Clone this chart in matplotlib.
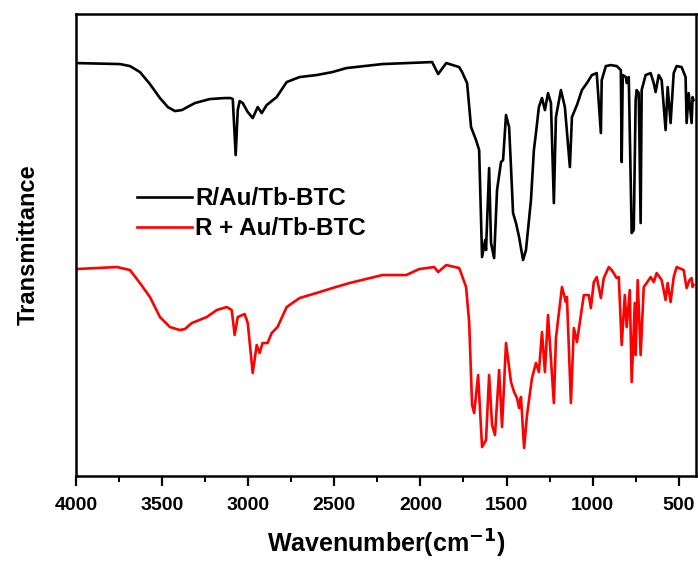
import matplotlib
matplotlib.use("Agg")
import matplotlib.pyplot as plt
from matplotlib.ticker import MultipleLocator

plt.rcParams["font.family"] = ["Liberation Sans", "DejaVu Sans"]
plt.rcParams["font.weight"] = "bold"

# transmittance in arbitrary units
wn_black = [4000, 3745, 3687, 3629, 3571, 3513, 3467, 3426, 3386, 3310, 3224, 3137, 3102,
            3090, 3073, 3061, 3050, 3032, 3003, 2974, 2945, 2922, 2893, 2835, 2777, 2702,
            2604, 2511, 2430, 2221, 1932, 1897, 1850, 1775, 1758, 1729, 1706, 1677, 1659,
            1642, 1624, 1619, 1601, 1590, 1572, 1555, 1532, 1520, 1503, 1485, 1474, 1462,
            1445, 1427, 1404, 1387, 1358, 1341, 1329, 1312, 1294, 1277, 1259, 1242, 1225,
            1213, 1184, 1161, 1132, 1120, 1091, 1062, 1033, 1004, 976, 952, 947, 923, 894,
            860, 836, 831, 825, 807, 802, 790, 773, 761, 750, 744, 732, 721, 715, 692, 663,
            645, 634, 616, 599, 576, 564, 547, 529, 512, 483, 460, 454, 442, 425, 419, 414]
t_black = [413, 412, 410, 404, 392, 378, 369, 365, 366, 373, 377, 378, 378,
           377, 321, 366, 375, 373, 364, 358, 369, 363, 371, 379, 394, 399,
           401, 404, 408, 412, 414, 402, 413, 409, 404, 393, 349, 336, 326,
           219, 236, 226, 308, 233, 218, 286, 314, 316, 361, 349, 309, 263,
           253, 239, 216, 226, 276, 326, 343, 369, 378, 366, 383, 373, 273,
           359, 386, 369, 309, 359, 371, 386, 393, 401, 403, 343, 396, 410, 411,
           410, 406, 314, 401, 399, 393, 399, 243, 246, 376, 386, 383, 253, 386, 401, 403,
           393, 384, 401, 396, 346, 389, 353, 403, 410, 409, 399, 353, 383, 353, 379, 376]

wn_red = [4000, 3762, 3687, 3629, 3571, 3513, 3455, 3397, 3368, 3328, 3241, 3183, 3125,
          3096, 3079, 3061, 3021, 3003, 2974, 2951, 2934, 2917, 2888, 2864, 2830, 2777,
          2702, 2604, 2511, 2412, 2221, 2082, 2007, 1920, 1897, 1850, 1775, 1764, 1735,
          1717, 1700, 1688, 1665, 1642, 1619, 1601, 1584, 1567, 1543, 1526, 1503, 1474,
          1456, 1439, 1427, 1416, 1398, 1381, 1352, 1329, 1312, 1294, 1277, 1259, 1225,
          1213, 1178, 1155, 1149, 1126, 1109, 1091, 1068, 1051, 1022, 1010, 993, 976, 952,
          935, 906, 889, 860, 848, 831, 813, 802, 784, 773, 755, 750, 738, 721, 703, 686,
          663, 645, 628, 599, 576, 564, 547, 529, 512, 471, 454, 437, 425, 419, 414]
t_red = [207, 209, 206, 193, 179, 159, 149, 146, 147, 153, 159, 166, 169,
         166, 141, 159, 162, 153, 103, 131, 123, 133, 133, 143, 149, 169,
         178, 183, 188, 193, 201, 201, 207, 209, 204, 211, 208, 203, 189,
         154, 71, 63, 101, 29, 36, 101, 51, 41, 106, 49, 133, 94,
         84, 78, 68, 79, 28, 61, 98, 113, 104, 144, 104, 161, 73,
         138, 189, 174, 179, 73, 148, 134, 161, 181, 181, 168, 194, 199, 178,
         198, 209, 206, 198, 199, 131, 181, 149, 186, 94, 173, 121, 196, 121, 189, 193,
         199, 194, 203, 196, 176, 193, 174, 199, 209, 206, 188, 196, 198, 189, 191]

labels = ["R/Au/Tb-BTC", "R + Au/Tb-BTC"]
colors = ["black", "red"]

fig = plt.figure(figsize=(6.98, 5.63), dpi=100)
ax = fig.add_axes([0.109, 0.1545, 0.888, 0.8205])
ax.plot(wn_black, t_black, color=colors[0], lw=1.9, label=labels[0])
ax.plot(wn_red, t_red, color=colors[1], lw=1.9, label=labels[1])

ax.set_xlim(4000, 400)
ax.set_ylim(0, 462)
ax.xaxis.set_major_locator(MultipleLocator(500))
ax.xaxis.set_minor_locator(MultipleLocator(250))
ax.set_yticks([])
ax.tick_params(axis="x", which="major", direction="out", length=7, width=1.6,
               labelsize=14, pad=8)
ax.tick_params(axis="x", which="minor", direction="out", length=4, width=1.4)
for lbl in ax.get_xticklabels():
    lbl.set_fontweight("bold")
for sp in ax.spines.values():
    sp.set_linewidth(1.8)

ax.set_xlabel("Wavenumber(cm$^{\\mathbf{-1}}$)", fontsize=18, fontweight="bold", labelpad=10)
ax.set_ylabel("Transmittance", fontsize=17, fontweight="bold", labelpad=26)

ax.legend(loc="upper left", bbox_to_anchor=(0.063, 0.672), frameon=False,
          prop={"size": 17.5, "weight": "bold"}, handlelength=2.25, handletextpad=0.15,
          labelspacing=0.28)

fig.savefig("out.png", dpi=100)
